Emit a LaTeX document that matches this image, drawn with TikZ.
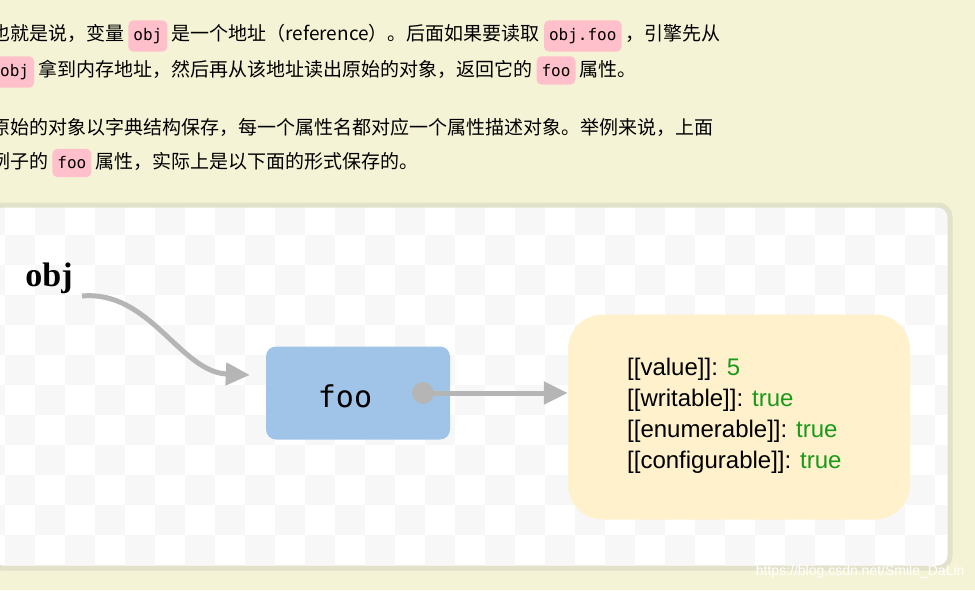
\documentclass[tikz,border=0pt]{standalone}
\usepackage{fontspec}
\usetikzlibrary{arrows.meta}
\setmainfont{Liberation Serif}
\setsansfont{Liberation Sans}
\setmonofont{DejaVu Sans Mono}
\newfontfamily\cjk{Noto Sans CJK SC}
\definecolor{pagebg}{HTML}{F5F3D5}
\definecolor{codepink}{HTML}{FFC0CB}
\definecolor{framec}{HTML}{E2E2CA}
\definecolor{checkc}{HTML}{F7F7F7}
\definecolor{arrowc}{HTML}{B5B5B5}
\definecolor{fooc}{HTML}{A0C4E8}
\definecolor{objc}{HTML}{FFF1CC}
\definecolor{greenc}{HTML}{1A9A1A}
\newcommand\cb[1]{\tikz[baseline=(X.base)]\node[fill=codepink,rounded corners=5pt,inner xsep=5pt,inner ysep=8pt](X){\ttfamily\fontsize{16}{16}\selectfont #1};}
\begin{document}
\begin{tikzpicture}[x=1pt,y=-1pt,
  para/.style={anchor=west,inner sep=0pt,font=\cjk\fontsize{19}{19}\selectfont},
  conn/.style={draw=arrowc,line width=5pt,-{Triangle[length=24pt,width=22pt]}}]
\useasboundingbox (0,0) rectangle (975,590);
\fill[pagebg] (0,0) rectangle (975,590);
\begin{scope}
\clip (0,0) rectangle (975,590);
\node[para] (l1) at (-9,36) {也就是说，变量 \cb{obj} 是一个地址（reference）。后面如果要读取 \cb{obj.foo} ，引擎先从};
\node[para] (l2) at (-5,72) {\cb{obj} 拿到内存地址，然后再从该地址读出原始的对象，返回它的 \cb{foo} 属性。};
\node[para] (l3) at (-9,127) {原始的对象以字典结构保存，每一个属性名都对应一个属性描述对象。举例来说，上面};
\node[para] (l4) at (-9,163) {例子的 \cb{foo} 属性，实际上是以下面的形式保存的。};
% frame
\fill[white,rounded corners=12pt] (-10,205) rectangle (950,568);
\begin{scope}
\clip[rounded corners=12pt] (-10,205) rectangle (950,568);
\foreach \i in {0,...,32}{\foreach \j in {0,...,12}{
  \pgfmathtruncatemacro\p{mod(\i+\j,2)}
  \ifnum\p=0 \fill[checkc] (\i*30-25,\j*30+205) rectangle +(30,30);\fi}}
\end{scope}
\draw[framec,line width=5pt,rounded corners=12pt] (-10,205) rectangle (950,568);
\end{scope}
\node[font=\bfseries\fontsize{34}{34}\selectfont] (obj) at (49,278) {obj};
\node[fill=fooc,rounded corners=10pt,minimum width=184pt,minimum height=93pt] (foo) at (358,393) {};
\node[font=\ttfamily\fontsize{30}{30}\selectfont] (footxt) at (345,396) {foo};
\node[fill=objc,rounded corners=35pt,minimum width=342pt,minimum height=205pt] (desc) at (739,417) {};
\node[anchor=west,align=left,inner sep=0pt,font=\sffamily\fontsize{24}{31}\selectfont] (desctxt) at (627,416)
 {{[[value]]}: \textcolor{greenc}{5}\\{}{[[writable]]}: \textcolor{greenc}{true}\\{}{[[enumerable]]}: \textcolor{greenc}{true}\\{}{[[configurable]]}: \textcolor{greenc}{true}};
\node[circle,fill=arrowc,minimum size=22pt,inner sep=0pt] (dot) at (423,393) {};
\coordinate (o1) at (82,296);
\draw[conn] (o1) .. controls (150,290) and (180,372) .. ([xshift=-16pt]foo.west |- 0,375);
\draw[conn] (dot.center) -- (desc.west |- dot);
\node[anchor=east,text=white,font=\sffamily\fontsize{14}{14}\selectfont] (wm) at (968,572) {https://blog.csdn.net/Smile\_DaLin};
\end{tikzpicture}
\end{document}
